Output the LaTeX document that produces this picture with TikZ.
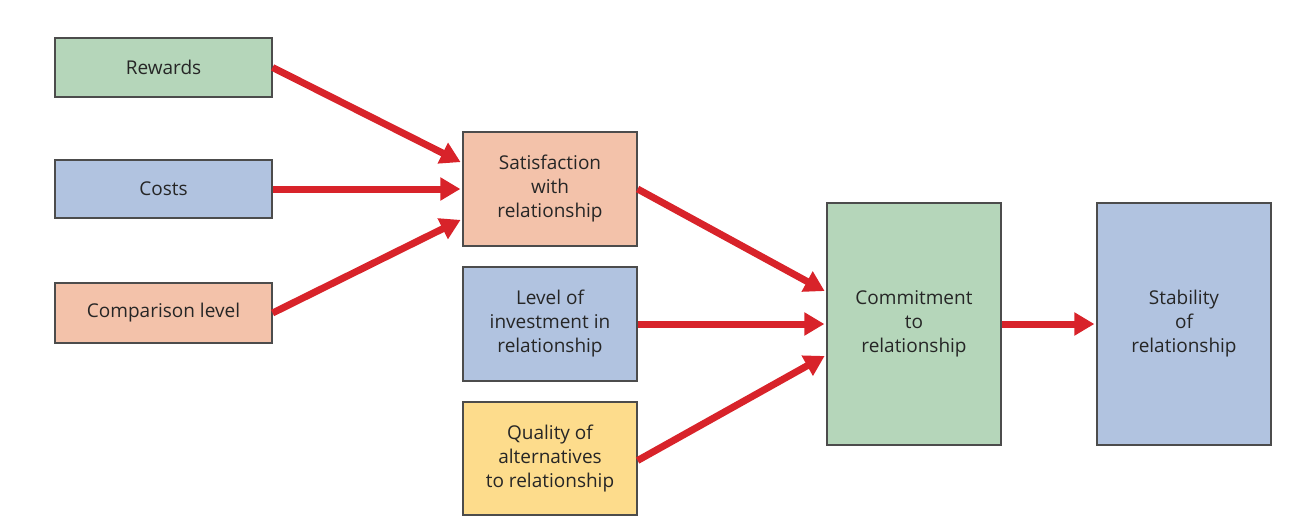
\documentclass[tikz,border=0pt]{standalone}
\usepackage{fontspec}
\setmainfont{Open Sans}
\usetikzlibrary{arrows.meta,calc}
\definecolor{bgreen}{HTML}{B5D6BA}
\definecolor{bblue}{HTML}{B1C3E0}
\definecolor{bsalmon}{HTML}{F3C2AA}
\definecolor{byellow}{HTML}{FDDC8C}
\definecolor{ared}{HTML}{D8232A}
\begin{document}
\begin{tikzpicture}[x=0.5pt,y=-0.5pt,
  box/.style={draw=black!70,line width=0.6pt,align=center,inner sep=0pt,
    font=\fontsize{9.5}{12}\selectfont,text=black!85},
  arr/.style={draw=ared,line width=3.5pt,-{Triangle[length=10pt,width=11pt]},shorten >=1pt}]
\useasboundingbox (0,0) rectangle (1297,525);
\node[box,fill=bgreen,minimum width=108.5pt,minimum height=29.5pt] (r) at (163.5,67.5) {Rewards};
\node[box,fill=bblue,minimum width=108.5pt,minimum height=29pt] (c) at (163.5,189) {Costs};
\node[box,fill=bsalmon,minimum width=108.5pt,minimum height=30pt] (l) at (163.5,313) {Comparison level};
\node[box,fill=bsalmon,minimum width=87pt,minimum height=57pt] (s) at (550,189) {Satisfaction\\with\\relationship};
\node[box,fill=bblue,minimum width=87pt,minimum height=57pt] (i) at (550,324) {Level of\\investment in\\relationship};
\node[box,fill=byellow,minimum width=87pt,minimum height=56.5pt] (q) at (550,458.5) {Quality of\\alternatives\\to relationship};
\node[box,fill=bgreen,minimum width=87pt,minimum height=121pt] (m) at (914,324) {Commitment\\to\\relationship};
\node[box,fill=bblue,minimum width=87pt,minimum height=121pt] (t) at (1184,324) {Stability\\of\\relationship};
\draw[arr] (r.east) -- ($(s.west)+(0,-26)$);
\draw[arr] (c.east) -- (s.west);
\draw[arr] (l.east) -- ($(s.west)+(0,30)$);
\draw[arr] ($(s.east)+(0,0)$) -- ($(m.west)+(0,-32)$);
\draw[arr] (i.east) -- (m.west);
\draw[arr] ($(q.east)+(0,2)$) -- ($(m.west)+(0,31)$);
\draw[arr] (m.east) -- (t.west);
\end{tikzpicture}
\end{document}
